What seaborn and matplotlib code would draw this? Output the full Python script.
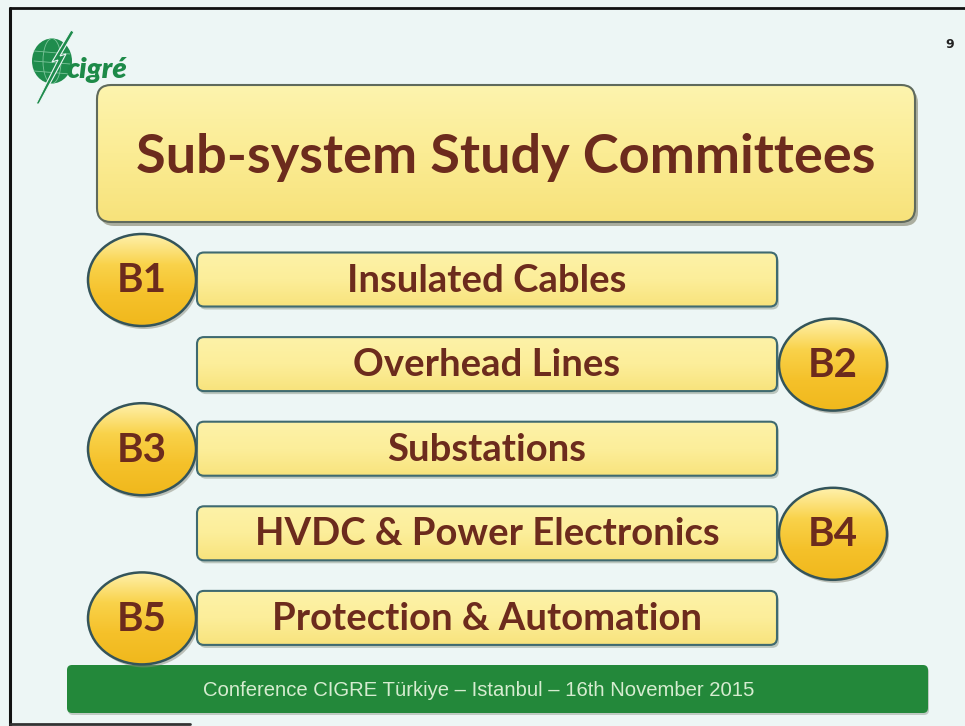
import numpy as np
import pandas as pd
import seaborn as sns
import matplotlib
matplotlib.use("Agg")
import matplotlib.pyplot as plt
from matplotlib.patches import FancyBboxPatch, Ellipse, Polygon
from matplotlib.colors import LinearSegmentedColormap

# ---- content ----
codes = ["B1", "B2", "B3", "B4", "B5"]
committees = ["Insulated Cables", "Overhead Lines", "Substations",
              "HVDC & Power Electronics", "Protection & Automation"]
badge_side = ["left", "right", "left", "right", "left"]
title = "Sub-system Study Committees"
footer = "Conference CIGRE Türkiye \u2013 Istanbul \u2013 16th November 2015"
page = "9"
logo_text = "cigré"

df = pd.DataFrame({"code": codes, "name": committees, "side": badge_side})

sns.set_theme(style="white")
plt.rcParams['font.family'] = ['Lato', 'DejaVu Sans']

W, H = 965, 726
fig = plt.figure(figsize=(W / 100, H / 100), dpi=100)
fig.patch.set_facecolor('#edf6f5')
ax = fig.add_axes([0, 0, 1, 1])
ax.set_facecolor('#edf6f5')

BROWN = '#6c2b1d'


def grad_patch(patch, extent, colors, zorder, edge, lw, shadow=None):
    if shadow is not None:
        shadow.set_zorder(zorder - 0.5)
        ax.add_patch(shadow)
    patch.set_facecolor('none')
    patch.set_edgecolor(edge)
    patch.set_linewidth(lw)
    patch.set_zorder(zorder + 0.1)
    ax.add_patch(patch)
    cmap = LinearSegmentedColormap.from_list('g', colors)
    g = np.linspace(0, 1, 256).reshape(-1, 1)
    im = ax.imshow(g, cmap=cmap, extent=extent, aspect='auto',
                   zorder=zorder, interpolation='bicubic')
    im.set_clip_path(patch)


# ---- frame lines (scan border) ----
ax.plot([10, 10], [8, 726], color='#111111', lw=2.2, zorder=1)
ax.plot([10, 965], [8, 8], color='#111111', lw=2.0, zorder=1)
ax.plot([10, 190], [724, 724], color='#333333', lw=2.0, zorder=1)

# ---- logo ----
globe = Ellipse((52, 61), 40, 45, facecolor='#1f8c4d', edgecolor='none', zorder=3)
ax.add_patch(globe)
for dy in (-10, 0, 10):
    ax.plot([34, 70], [61 + dy, 61 + dy + 3], color='#7cc49a', lw=0.6, zorder=4)
ax.add_patch(Ellipse((52, 61), 18, 45, facecolor='none', edgecolor='#7cc49a', lw=0.6, zorder=4))
bolt = Polygon([[36, 104], [58, 60], [52, 62], [71, 30], [74, 32], [60, 56], [66, 54], [39, 104]],
               closed=True, facecolor='#1f8c4d', edgecolor='#edf6f5', lw=0.8, zorder=5)
ax.add_patch(bolt)
ax.text(67, 70, logo_text, fontsize=21, fontweight='heavy', style='italic',
        color='#1d8a48', ha='left', va='center', zorder=6, family=['Lato', 'DejaVu Sans'])

# ---- page number ----
ax.text(950, 44, page, fontsize=9, fontweight='bold', color='#222222',
        ha='center', va='center', family=['DejaVu Sans'])

# ---- title box ----
tx0, ty0, tx1, ty1 = 97, 85, 915, 222
tshadow = FancyBboxPatch((tx0 + 3, ty0 + 4), tx1 - tx0, ty1 - ty0,
                         boxstyle="round,pad=0,rounding_size=14",
                         facecolor='#7f7f66', edgecolor='none', alpha=0.6)
tbox = FancyBboxPatch((tx0, ty0), tx1 - tx0, ty1 - ty0,
                      boxstyle="round,pad=0,rounding_size=14")
grad_patch(tbox, (tx0, tx1, ty1, ty0), ['#fdf4ae', '#fbec94', '#f7e27a'],
           zorder=3, edge='#5f6a5c', lw=1.5, shadow=tshadow)
ax.text(506, 158, title, fontsize=39, fontweight='bold',
        color=BROWN, ha='center', va='center', zorder=6)

# ---- committee rows ----
row_y0, row_step, bar_h = 279.5, 84.6, 54
bar_x0, bar_x1 = 197, 777
badge_w, badge_h = 108, 92
for i, row in df.iterrows():
    cy = row_y0 + i * row_step
    y0 = cy - bar_h / 2
    sh = FancyBboxPatch((bar_x0 + 2, y0 + 3), bar_x1 - bar_x0, bar_h,
                        boxstyle="round,pad=0,rounding_size=7",
                        facecolor='#9aa69a', edgecolor='none', alpha=0.6)
    box = FancyBboxPatch((bar_x0, y0), bar_x1 - bar_x0, bar_h,
                         boxstyle="round,pad=0,rounding_size=7")
    grad_patch(box, (bar_x0, bar_x1, y0 + bar_h, y0),
               ['#fdf2a8', '#fcee9a', '#f8e37c'],
               zorder=3, edge='#3f6a70', lw=1.5, shadow=sh)
    ax.text(487, cy + 1, row["name"], fontsize=27.5,
            fontweight='bold', color=BROWN, ha='center', va='center', zorder=6)

    cx = 142 if row["side"] == "left" else 833
    ccy = cy + 0.5
    csh = Ellipse((cx + 2, ccy + 3), badge_w, badge_h, facecolor='#8a8a7a',
                  edgecolor='none', alpha=0.5)
    circ = Ellipse((cx, ccy), badge_w, badge_h)
    grad_patch(circ, (cx - badge_w / 2, cx + badge_w / 2, ccy + badge_h / 2, ccy - badge_h / 2),
               ['#fff1ac', '#f9d24a', '#f5c12a', '#f0b81c'],
               zorder=4, edge='#34545a', lw=1.8, shadow=csh)
    ax.text(cx, ccy + 1, row["code"], fontsize=29, fontweight='bold',
            color=BROWN, ha='center', va='center', zorder=7)

# ---- footer ----
fshadow = FancyBboxPatch((68, 667), 928 - 67, 713 - 665,
                         boxstyle="round,pad=0,rounding_size=5",
                         facecolor='#7a8a7a', edgecolor='none', alpha=0.4, zorder=2)
ax.add_patch(fshadow)
fbar = FancyBboxPatch((67, 665), 928 - 67, 713 - 665,
                      boxstyle="round,pad=0,rounding_size=5",
                      facecolor='#23883a', edgecolor='none', zorder=3)
ax.add_patch(fbar)
ax.text(478.5, 690, footer, fontsize=14.6, color='#d6ecd0', ha='center', va='center',
        family=['Liberation Sans', 'DejaVu Sans'], zorder=6)

ax.set_xlim(0, W)
ax.set_ylim(H, 0)
ax.axis('off')
fig.savefig("out.png", dpi=100, facecolor=fig.get_facecolor())
